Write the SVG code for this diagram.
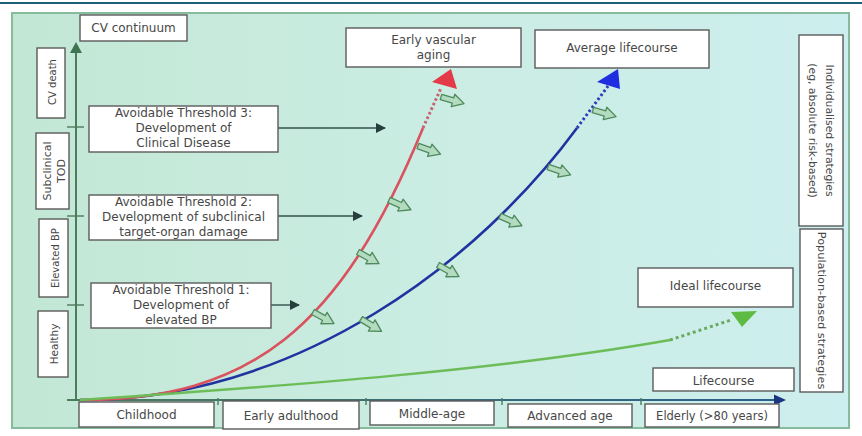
<svg xmlns="http://www.w3.org/2000/svg" xmlns:xlink="http://www.w3.org/1999/xlink" width="862" height="436" viewBox="0 0 862 436">
  <style>
    .box{fill:#ffffff;stroke:#5b5b5b;stroke-width:1.4}
    .t{font-family:"DejaVu Sans","Open Sans","Liberation Sans",sans-serif;fill:#474747;text-anchor:middle;font-size:12px}
    .tv{font-size:10px}
    .ts{font-size:10.8px}
    .thr{fill:none;stroke:#33504a;stroke-width:1.4}
    .tick{stroke:#4d7a5e;stroke-width:1.4}
    .nudge{fill:#b3dbbf;stroke:#4f8a5c;stroke-width:1.3;stroke-linejoin:round}
  </style>
  <defs>
    <linearGradient id="panelFill" x1="0" y1="0" x2="1" y2="0">
      <stop offset="0" stop-color="#c3e7d5"/>
      <stop offset="0.55" stop-color="#cbede4"/>
      <stop offset="1" stop-color="#cdeeee"/>
    </linearGradient>
    <linearGradient id="xAxisStroke" x1="67" y1="0" x2="785" y2="0" gradientUnits="userSpaceOnUse">
      <stop offset="0" stop-color="#4b7c5c"/>
      <stop offset="1" stop-color="#2a5e8e"/>
    </linearGradient>
    <marker id="thrHead" markerWidth="10" markerHeight="10" refX="9" refY="5" orient="auto" markerUnits="userSpaceOnUse">
      <path d="M0,0 L10,5 L0,10 Z" fill="#263f3c"/>
    </marker>
    <path id="nudge" class="nudge" d="M0,-2.8 L12.5,-2.8 L12.5,-6.5 L24,0 L12.5,6.5 L12.5,2.8 L0,2.8 Z"/>
  </defs>

  <!-- page and panel -->
  <rect x="0" y="0" width="862" height="436" fill="#ffffff"/>
  <line x1="0" y1="3" x2="862" y2="3" stroke="#1f5e78" stroke-width="2"/>
  <rect x="12" y="13" width="837" height="415" fill="url(#panelFill)" stroke="#86bb9d" stroke-width="2"/>

  <!-- axes -->
  <g id="axes">
    <line x1="76" y1="401" x2="76" y2="52" stroke="#4b7c5c" stroke-width="2"/>
    <path d="M70,53 L76,42 L82,53 Z" fill="#3f7452"/>
    <line x1="67" y1="400" x2="776" y2="400" stroke="url(#xAxisStroke)" stroke-width="2"/>
    <path d="M774,394.5 L786,400 L774,405.5 Z" fill="#1c3580"/>
    <line class="tick" x1="67" y1="127" x2="84" y2="127"/>
    <line class="tick" x1="67" y1="216" x2="84" y2="216"/>
    <line class="tick" x1="67" y1="305" x2="84" y2="305"/>
    <line class="tick" x1="218" y1="398" x2="218" y2="405"/>
    <line class="tick" x1="366" y1="398" x2="366" y2="405"/>
    <line class="tick" x1="502" y1="398" x2="502" y2="405"/>
    <line class="tick" x1="641" y1="398" x2="641" y2="405"/>
  </g>

  <!-- connectors: lifecourse curves, threshold pointers, downward-shift hints -->
  <g id="connectors">
    <path d="M80,400 C300,400 480,260 577,128" fill="none" stroke="#2232a0" stroke-width="2.6"/>
    <path d="M577,128 L608,86" fill="none" stroke="#2a40b8" stroke-width="3" stroke-dasharray="2.5 2.5"/>
    <path d="M597,82 L618,69 L620,89 Z" fill="#1f2fe0"/>

    <path d="M80,400 C250,400 340,330 423,128" fill="none" stroke="#d9525e" stroke-width="2.6"/>
    <path d="M423,128 L441,88" fill="none" stroke="#c46470" stroke-width="3" stroke-dasharray="2.5 2.5"/>
    <path d="M432,82 L451,69 L457,89 Z" fill="#e23a48"/>

    <path d="M80,400 C300,385 500,370 670,340" fill="none" stroke="#6cbd58" stroke-width="2.4"/>
    <path d="M670,340 L731,320" fill="none" stroke="#6aaa62" stroke-width="3" stroke-dasharray="3 3"/>
    <path d="M731,312 L757,311 L742,327 Z" fill="#5dbb42"/>

    <line class="thr" x1="278" y1="128" x2="385" y2="128" marker-end="url(#thrHead)"/>
    <line class="thr" x1="278" y1="216" x2="362" y2="216" marker-end="url(#thrHead)"/>
    <line class="thr" x1="271" y1="305" x2="299" y2="305" marker-end="url(#thrHead)"/>

    <use href="#nudge" transform="translate(441,97) rotate(16)"/>
    <use href="#nudge" transform="translate(418,146) rotate(20)"/>
    <use href="#nudge" transform="translate(389,200) rotate(24)"/>
    <use href="#nudge" transform="translate(358,252) rotate(29)"/>
    <use href="#nudge" transform="translate(313,312) rotate(29)"/>
    <use href="#nudge" transform="translate(593,110) rotate(16)"/>
    <use href="#nudge" transform="translate(548,167) rotate(19)"/>
    <use href="#nudge" transform="translate(500,216) rotate(24)"/>
    <use href="#nudge" transform="translate(438,265) rotate(29)"/>
    <use href="#nudge" transform="translate(361,319) rotate(31)"/>
  </g>

  <!-- axis title -->
  <g id="cv-continuum">
    <rect class="box" x="80" y="15" width="107" height="26"/>
    <text class="t" x="133.5" y="32">CV continuum</text>
  </g>

  <!-- stages on the vertical axis -->
  <g id="stage-cv-death">
    <rect class="box" x="37" y="48" width="28" height="70"/>
    <text class="t tv" transform="translate(56,82) rotate(-90)">CV death</text>
  </g>
  <g id="stage-subclinical-tod">
    <rect class="box" x="36" y="133" width="33" height="76"/>
    <text class="t" style="font-size:11px" transform="translate(50.5,171) rotate(-90)">Subclinical</text>
    <text class="t" style="font-size:11px" transform="translate(65,171) rotate(-90)">TOD</text>
  </g>
  <g id="stage-elevated-bp">
    <rect class="box" x="39" y="219" width="29" height="78"/>
    <text class="t tv" transform="translate(58.5,258) rotate(-90)">Elevated BP</text>
  </g>
  <g id="stage-healthy">
    <rect class="box" x="38" y="311" width="30" height="66"/>
    <text class="t" style="font-size:10.5px" transform="translate(57.5,344) rotate(-90)">Healthy</text>
  </g>

  <!-- avoidable thresholds -->
  <g id="threshold-3">
    <rect class="box" x="89" y="106" width="189" height="46"/>
    <text class="t" x="183.5" y="117">Avoidable Threshold 3:</text>
    <text class="t" x="183.5" y="132">Development of</text>
    <text class="t" x="183.5" y="147">Clinical Disease</text>
  </g>
  <g id="threshold-2">
    <rect class="box" x="89" y="195" width="189" height="45"/>
    <text class="t" x="183.5" y="206">Avoidable Threshold 2:</text>
    <text class="t" x="183.5" y="221">Development of subclinical</text>
    <text class="t" x="183.5" y="236">target-organ damage</text>
  </g>
  <g id="threshold-1">
    <rect class="box" x="91" y="283" width="180" height="45"/>
    <text class="t" x="181" y="294">Avoidable Threshold 1:</text>
    <text class="t" x="181" y="309">Development of</text>
    <text class="t" x="181" y="324">elevated BP</text>
  </g>

  <!-- lifecourse outcomes -->
  <g id="early-vascular-aging">
    <rect class="box" x="346" y="28" width="175" height="39"/>
    <text class="t" x="433.5" y="44">Early vascular</text>
    <text class="t" x="433.5" y="58.5">aging</text>
  </g>
  <g id="average-lifecourse">
    <rect class="box" x="535" y="30" width="174" height="38"/>
    <text class="t" x="622" y="52">Average lifecourse</text>
  </g>
  <g id="ideal-lifecourse">
    <rect class="box" x="638" y="268" width="155" height="39"/>
    <text class="t" x="715.5" y="289.5">Ideal lifecourse</text>
  </g>
  <g id="lifecourse">
    <rect class="box" x="653" y="368" width="141" height="23"/>
    <text class="t" x="723.5" y="385">Lifecourse</text>
  </g>

  <!-- strategies -->
  <g id="individualised-strategies">
    <rect class="box" x="799" y="35" width="44" height="191"/>
    <text class="t ts" transform="translate(826,130.5) rotate(90)">Individualised strategies</text>
    <text class="t ts" transform="translate(809,130.5) rotate(90)">(eg, absolute risk-based)</text>
  </g>
  <g id="population-strategies">
    <rect class="box" x="800" y="229" width="43" height="163"/>
    <text class="t" style="font-size:11.3px" transform="translate(817.5,310.5) rotate(90)">Population-based strategies</text>
  </g>

  <!-- age bands on the horizontal axis -->
  <g id="age-childhood">
    <rect class="box" x="79" y="402" width="135" height="25"/>
    <text class="t" x="146.5" y="419">Childhood</text>
  </g>
  <g id="age-early-adulthood">
    <rect class="box" x="223" y="401" width="136" height="28"/>
    <text class="t" x="291" y="419.5">Early adulthood</text>
  </g>
  <g id="age-middle-age">
    <rect class="box" x="370" y="401" width="124" height="24"/>
    <text class="t" x="432" y="417.5">Middle-age</text>
  </g>
  <g id="age-advanced">
    <rect class="box" x="508" y="404" width="124" height="23"/>
    <text class="t" x="570" y="420">Advanced age</text>
  </g>
  <g id="age-elderly">
    <rect class="box" x="645" y="404" width="134" height="23"/>
    <text class="t" style="font-size:11.5px" x="712" y="420">Elderly (&gt;80 years)</text>
  </g>
</svg>
